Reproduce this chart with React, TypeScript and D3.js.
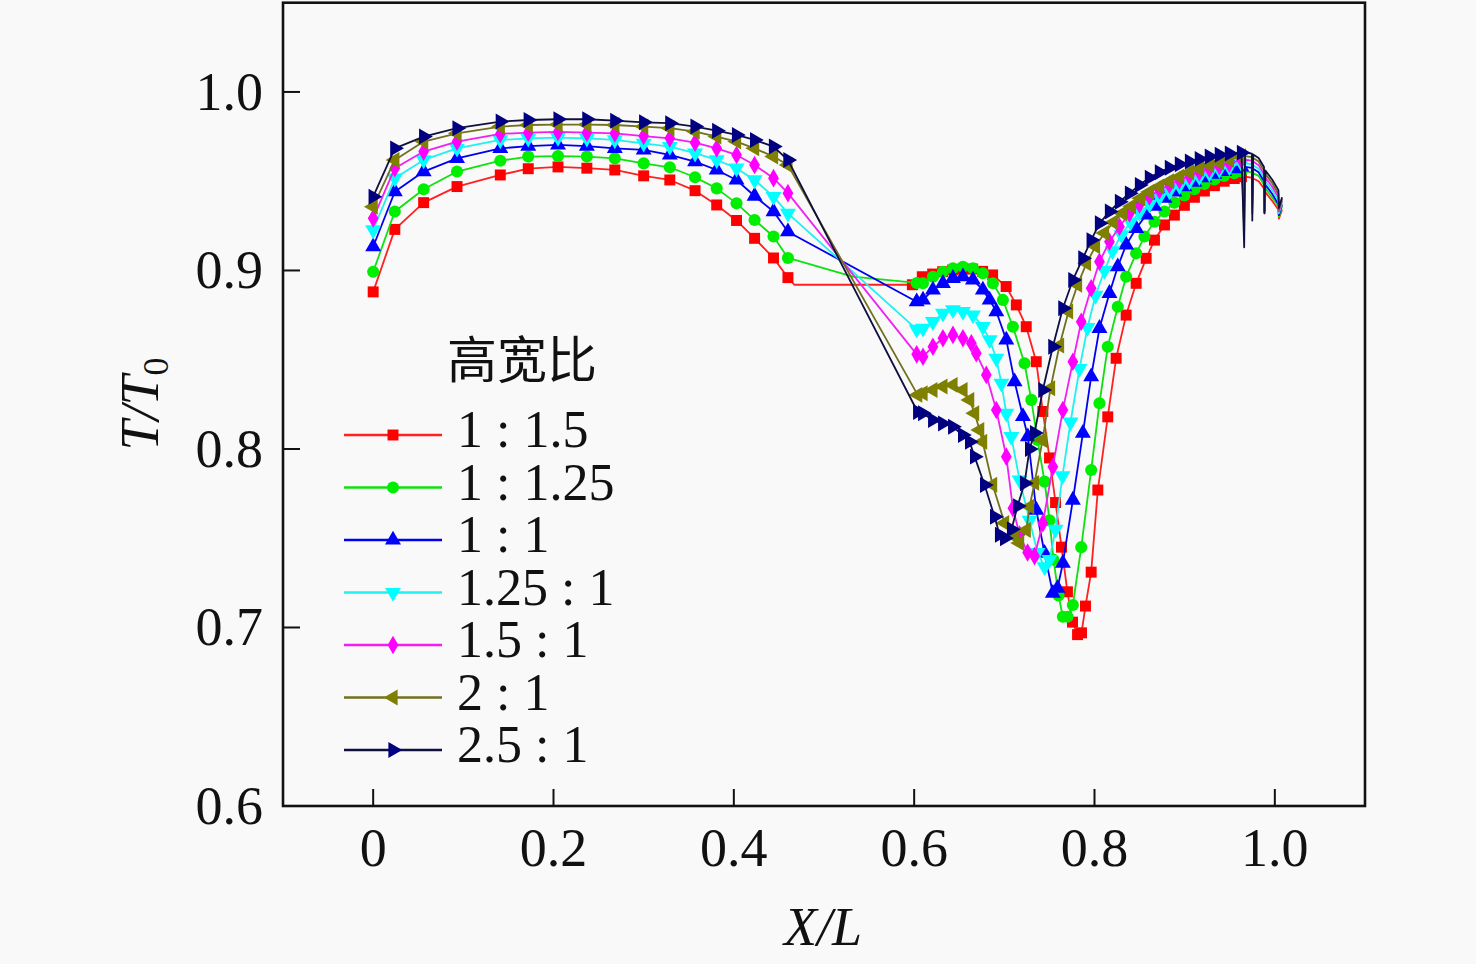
import React from 'react';
import * as d3 from 'd3';

// ---------- data ----------
const X_TICKS = [0, 0.2, 0.4, 0.6, 0.8, 1.0];
const X_TICK_LABELS = ['0', '0.2', '0.4', '0.6', '0.8', '1.0'];
const Y_TICKS = [0.6, 0.7, 0.8, 0.9, 1.0];
const Y_TICK_LABELS = ['0.6', '0.7', '0.8', '0.9', '1.0'];

const LEGEND_TITLE = '高宽比';
const SERIES_NAMES = ['1 : 1.5', '1 : 1.25', '1 : 1', '1.25 : 1', '1.5 : 1', '2 : 1', '2.5 : 1'];

// shared stations in the first section
const X_LEFT = [0, 0.024, 0.056, 0.093, 0.141, 0.172, 0.205, 0.237, 0.268, 0.3, 0.329, 0.357, 0.381, 0.403, 0.423, 0.444, 0.46];
// shared stations near the outlet
const X_END = [0.966, 0.967, 0.9745, 0.975, 0.976, 0.982, 0.988, 0.9885, 0.9895, 0.997, 1.004, 1.0045, 1.008];

// 1:1.5
const T_LEFT_A = [0.888, 0.923, 0.938, 0.947, 0.9535, 0.957, 0.958, 0.9573, 0.9563, 0.953, 0.9507, 0.9447, 0.9367, 0.928, 0.918, 0.907, 0.896];
const X_GAP_A = [0.467];
const T_GAP_A = [0.892];
const X_RIGHT_A = [0.598, 0.609, 0.6205, 0.6316, 0.6427, 0.6537, 0.6648, 0.6759, 0.687, 0.702, 0.7133, 0.7243, 0.7354, 0.7427, 0.7501, 0.7568, 0.7634, 0.77, 0.7756, 0.7812, 0.7856, 0.79, 0.7963, 0.8037, 0.8147, 0.824, 0.8351, 0.8462, 0.8573, 0.8665, 0.8776, 0.8886, 0.8997, 0.9108, 0.9219, 0.933, 0.9438, 0.955, 0.963];
const T_RIGHT_A = [0.892, 0.8965, 0.898, 0.8993, 0.9003, 0.9008, 0.9008, 0.8995, 0.8975, 0.891, 0.8807, 0.8685, 0.8489, 0.821, 0.795, 0.77, 0.745, 0.72, 0.703, 0.696, 0.697, 0.712, 0.731, 0.777, 0.818, 0.8508, 0.875, 0.8928, 0.9068, 0.917, 0.9255, 0.931, 0.9365, 0.941, 0.9445, 0.9475, 0.95, 0.9515, 0.9525];
const T_END_A = [0.943, 0.9525, 0.952, 0.941, 0.9515, 0.95, 0.946, 0.932, 0.944, 0.939, 0.934, 0.929, 0.934];

// 1:1.25
const T_LEFT_B = [0.8993, 0.933, 0.9455, 0.9554, 0.9615, 0.9638, 0.9641, 0.9638, 0.9628, 0.96, 0.9578, 0.9522, 0.946, 0.9376, 0.9283, 0.919, 0.907];
const X_GAP_B = [0.532];
const T_GAP_B = [0.8965];
const X_RIGHT_B = [0.6028, 0.6098, 0.6208, 0.6319, 0.643, 0.6541, 0.6652, 0.6762, 0.6873, 0.6984, 0.7095, 0.7224, 0.7299, 0.7368, 0.7446, 0.7501, 0.7546, 0.7601, 0.7649, 0.7701, 0.776, 0.7853, 0.7963, 0.8055, 0.8147, 0.8258, 0.8351, 0.8462, 0.8554, 0.8665, 0.8776, 0.8886, 0.8997, 0.9108, 0.9219, 0.933, 0.9438, 0.955, 0.963];
const T_RIGHT_B = [0.893, 0.8928, 0.8965, 0.8993, 0.9012, 0.9021, 0.9012, 0.8984, 0.8928, 0.8835, 0.8685, 0.848, 0.8275, 0.805, 0.7817, 0.76, 0.738, 0.718, 0.706, 0.706, 0.7126, 0.745, 0.7882, 0.8256, 0.8573, 0.8797, 0.8965, 0.9096, 0.919, 0.9273, 0.933, 0.938, 0.942, 0.9455, 0.9485, 0.951, 0.953, 0.9545, 0.9555];
const T_END_B = [0.941, 0.9555, 0.955, 0.94, 0.9545, 0.953, 0.948, 0.933, 0.946, 0.941, 0.936, 0.93, 0.936];

// 1:1
const T_LEFT_C = [0.9133, 0.9441, 0.9554, 0.9628, 0.9684, 0.9697, 0.9703, 0.9697, 0.9684, 0.9675, 0.9647, 0.961, 0.9563, 0.9507, 0.9417, 0.933, 0.9217];
const X_GAP_C: number[] = [];
const T_GAP_C: number[] = [];
const X_RIGHT_C = [0.6028, 0.6098, 0.6208, 0.6319, 0.643, 0.6541, 0.6652, 0.6762, 0.6837, 0.6911, 0.7022, 0.7114, 0.7206, 0.7261, 0.7354, 0.7446, 0.7538, 0.759, 0.7649, 0.776, 0.7871, 0.7963, 0.8055, 0.8166, 0.8258, 0.8351, 0.8462, 0.8573, 0.8665, 0.8776, 0.8886, 0.8997, 0.9108, 0.9219, 0.933, 0.9438, 0.955, 0.963];
const T_RIGHT_C = [0.8825, 0.8835, 0.8891, 0.8928, 0.8956, 0.8965, 0.8947, 0.8891, 0.8835, 0.877, 0.8611, 0.8377, 0.8182, 0.8069, 0.7658, 0.7416, 0.7192, 0.722, 0.736, 0.7714, 0.8088, 0.8405, 0.8676, 0.8872, 0.9021, 0.9143, 0.9236, 0.9311, 0.936, 0.9405, 0.944, 0.947, 0.9495, 0.952, 0.954, 0.9555, 0.957, 0.958];
const T_END_C = [0.938, 0.958, 0.9575, 0.939, 0.957, 0.955, 0.95, 0.933, 0.948, 0.943, 0.937, 0.931, 0.937];

// 1.25:1
const T_LEFT_D = [0.9227, 0.9517, 0.9619, 0.9684, 0.9731, 0.974, 0.9744, 0.974, 0.9731, 0.9712, 0.9694, 0.9657, 0.9619, 0.9573, 0.9507, 0.9414, 0.932];
const X_GAP_D: number[] = [];
const T_GAP_D: number[] = [];
const X_RIGHT_D = [0.6028, 0.6098, 0.6208, 0.6319, 0.643, 0.6541, 0.6652, 0.6762, 0.6837, 0.6911, 0.6967, 0.7022, 0.7077, 0.7169, 0.728, 0.7368, 0.7446, 0.7501, 0.7568, 0.7645, 0.7734, 0.7834, 0.7922, 0.8011, 0.8111, 0.82, 0.8299, 0.8399, 0.8499, 0.8609, 0.872, 0.8831, 0.8942, 0.9053, 0.9163, 0.9274, 0.9385, 0.9496, 0.963];
const T_RIGHT_D = [0.867, 0.8676, 0.8713, 0.876, 0.8779, 0.877, 0.875, 0.8685, 0.8611, 0.8508, 0.8368, 0.82, 0.8069, 0.7826, 0.76, 0.742, 0.734, 0.738, 0.755, 0.785, 0.815, 0.845, 0.868, 0.886, 0.9, 0.911, 0.92, 0.927, 0.9325, 0.937, 0.941, 0.9445, 0.9475, 0.95, 0.9525, 0.9545, 0.9565, 0.958, 0.96];
const T_END_D = [0.935, 0.96, 0.9595, 0.937, 0.959, 0.957, 0.952, 0.934, 0.95, 0.945, 0.939, 0.932, 0.938];

// 1.5:1
const T_LEFT_E = [0.9292, 0.9573, 0.9666, 0.9722, 0.9765, 0.9772, 0.9776, 0.9772, 0.9768, 0.9753, 0.974, 0.9716, 0.9684, 0.9647, 0.9591, 0.9517, 0.9433];
const X_GAP_E: number[] = [];
const T_GAP_E: number[] = [];
const X_RIGHT_E = [0.6028, 0.6098, 0.6208, 0.6319, 0.643, 0.6541, 0.6634, 0.6689, 0.68, 0.6911, 0.7022, 0.7095, 0.7169, 0.7258, 0.7335, 0.7427, 0.7538, 0.7649, 0.776, 0.7853, 0.7963, 0.8055, 0.8166, 0.8277, 0.8388, 0.8499, 0.8609, 0.872, 0.8831, 0.8942, 0.9053, 0.9163, 0.9274, 0.9385, 0.9496, 0.963];
const T_RIGHT_E = [0.853, 0.8517, 0.8573, 0.862, 0.8639, 0.862, 0.8592, 0.8536, 0.8415, 0.8218, 0.7957, 0.7668, 0.752, 0.742, 0.74, 0.7584, 0.79, 0.8218, 0.8489, 0.8713, 0.89, 0.9049, 0.9161, 0.9245, 0.932, 0.937, 0.9415, 0.945, 0.948, 0.9505, 0.953, 0.955, 0.957, 0.9585, 0.96, 0.962];
const T_END_E = [0.93, 0.962, 0.9615, 0.935, 0.961, 0.959, 0.954, 0.934, 0.952, 0.947, 0.941, 0.933, 0.939];

// 2:1
const T_LEFT_F = [0.9357, 0.9619, 0.9722, 0.9768, 0.9806, 0.9815, 0.9817, 0.9817, 0.9815, 0.9806, 0.9797, 0.9778, 0.975, 0.9722, 0.9684, 0.9638, 0.9591];
const X_GAP_F: number[] = [];
const T_GAP_F: number[] = [];
const X_RIGHT_F = [0.6039, 0.6098, 0.6208, 0.6319, 0.643, 0.6541, 0.6615, 0.667, 0.6726, 0.6759, 0.687, 0.7003, 0.7114, 0.7169, 0.7243, 0.728, 0.7335, 0.7424, 0.7512, 0.7612, 0.7712, 0.7812, 0.7911, 0.8011, 0.8111, 0.8211, 0.831, 0.841, 0.851, 0.8609, 0.872, 0.8831, 0.8942, 0.9053, 0.9163, 0.9274, 0.9385, 0.9496, 0.963];
const T_RIGHT_F = [0.8303, 0.8312, 0.833, 0.835, 0.8359, 0.833, 0.8275, 0.82, 0.8106, 0.804, 0.78, 0.7585, 0.751, 0.7473, 0.7546, 0.7677, 0.781, 0.805, 0.834, 0.858, 0.877, 0.892, 0.904, 0.9135, 0.921, 0.927, 0.932, 0.936, 0.9405, 0.944, 0.947, 0.95, 0.9525, 0.955, 0.957, 0.959, 0.9605, 0.962, 0.964];
const T_END_F = [0.922, 0.964, 0.9635, 0.932, 0.963, 0.961, 0.956, 0.933, 0.954, 0.949, 0.943, 0.934, 0.94];

// 2.5:1
const T_LEFT_G = [0.9413, 0.9684, 0.975, 0.9797, 0.9834, 0.9843, 0.9847, 0.9847, 0.9839, 0.983, 0.9825, 0.9806, 0.9783, 0.9759, 0.9731, 0.9694, 0.9619];
const X_GAP_G: number[] = [];
const T_GAP_G: number[] = [];
const X_RIGHT_G = [0.6039, 0.6094, 0.6205, 0.6316, 0.6427, 0.6537, 0.6615, 0.667, 0.6781, 0.6892, 0.6947, 0.7003, 0.708, 0.7147, 0.7224, 0.728, 0.7335, 0.7427, 0.7538, 0.7649, 0.776, 0.7871, 0.7963, 0.8055, 0.8166, 0.8277, 0.8388, 0.8499, 0.8609, 0.872, 0.8831, 0.8942, 0.9053, 0.9163, 0.9274, 0.9385, 0.9496, 0.963];
const T_RIGHT_G = [0.8207, 0.82, 0.8162, 0.8143, 0.8125, 0.8078, 0.804, 0.7957, 0.7798, 0.762, 0.752, 0.75, 0.755, 0.768, 0.7808, 0.8, 0.809, 0.833, 0.8573, 0.8788, 0.8947, 0.9068, 0.917, 0.9264, 0.933, 0.9385, 0.9432, 0.9479, 0.952, 0.955, 0.9575, 0.9595, 0.961, 0.9625, 0.9638, 0.9648, 0.9655, 0.966];
const T_END_G = [0.913, 0.966, 0.9655, 0.928, 0.965, 0.963, 0.958, 0.932, 0.956, 0.951, 0.945, 0.935, 0.941];

// ---------- styles ----------
const MARKER_COLORS = ['#ff0000', '#00ee00', '#0000ff', '#00ffff', '#ff00ff', '#808000', '#000080'];
const LINE_COLORS = ['#ff2020', '#10e010', '#0000f0', '#20f0f0', '#f020f0', '#707020', '#101040'];
const SYMBOLS = [
  { type: d3.symbolSquare, size: 120, rot: 0 },
  { type: d3.symbolCircle, size: 115, rot: 0 },
  { type: d3.symbolTriangle, size: 110, rot: 0 },
  { type: d3.symbolTriangle, size: 110, rot: 180 },
  { type: d3.symbolDiamond, size: 100, rot: 0 },
  { type: d3.symbolTriangle, size: 110, rot: -90 },
  { type: d3.symbolTriangle, size: 110, rot: 90 },
];

const SERIES_DATA = [
  [T_LEFT_A, X_GAP_A, T_GAP_A, X_RIGHT_A, T_RIGHT_A, T_END_A],
  [T_LEFT_B, X_GAP_B, T_GAP_B, X_RIGHT_B, T_RIGHT_B, T_END_B],
  [T_LEFT_C, X_GAP_C, T_GAP_C, X_RIGHT_C, T_RIGHT_C, T_END_C],
  [T_LEFT_D, X_GAP_D, T_GAP_D, X_RIGHT_D, T_RIGHT_D, T_END_D],
  [T_LEFT_E, X_GAP_E, T_GAP_E, X_RIGHT_E, T_RIGHT_E, T_END_E],
  [T_LEFT_F, X_GAP_F, T_GAP_F, X_RIGHT_F, T_RIGHT_F, T_END_F],
  [T_LEFT_G, X_GAP_G, T_GAP_G, X_RIGHT_G, T_RIGHT_G, T_END_G],
];

const W = 1476;
const H = 964;
const PLOT = { left: 283, right: 1365, top: 2.7, bottom: 806 };
const SERIF = '"Liberation Serif", "Times New Roman", serif';

export default function App() {
  const x = d3.scaleLinear().domain([-0.1, 1.1]).range([PLOT.left, PLOT.right]);
  const y = d3.scaleLinear().domain([0.6, 1.05]).range([PLOT.bottom, PLOT.top]);
  const line = d3.line<[number, number]>().x((d) => x(d[0])).y((d) => y(d[1]));

  const series = SERIES_DATA.map(([tl, xg, tg, xr, tr, te], i) => {
    const left: [number, number][] = X_LEFT.map((xv, j) => [xv, tl[j]]);
    const gap: [number, number][] = xg.map((xv, j) => [xv, tg[j]]);
    const right: [number, number][] = xr.map((xv, j) => [xv, tr[j]]);
    const end: [number, number][] = X_END.map((xv, j) => [xv, te[j]]);
    return {
      path: line([...left, ...gap, ...right, ...end]) || '',
      marks: [...left, ...right],
      i,
    };
  });

  const symPath = (i: number) => d3.symbol().type(SYMBOLS[i].type).size(SYMBOLS[i].size)() || '';

  const legendX0 = 344;
  const legendX1 = 442;
  const legendY0 = 435;
  const legendStep = 52.5;

  return (
    <svg width={W} height={H} style={{ position: 'absolute', left: 0, top: 0 }}>
      <rect x={0} y={0} width={W} height={H} fill="#f9f9f9" />
      {/* series */}
      {series.map((s) => (
        <g key={s.i}>
          <path d={s.path} fill="none" stroke={LINE_COLORS[s.i]} strokeWidth={1.8} strokeLinejoin="round" />
          {s.marks.map((p, k) => (
            <path
              key={k}
              d={symPath(s.i)}
              fill={MARKER_COLORS[s.i]}
              transform={`translate(${x(p[0])},${y(p[1])}) rotate(${SYMBOLS[s.i].rot})`}
            />
          ))}
        </g>
      ))}
      {/* frame */}
      <rect
        x={PLOT.left}
        y={PLOT.top}
        width={PLOT.right - PLOT.left}
        height={PLOT.bottom - PLOT.top}
        fill="none"
        stroke="#111"
        strokeWidth={2.6}
      />
      {/* x ticks */}
      {X_TICKS.map((v, i) => (
        <g key={'xt' + i}>
          <line x1={x(v)} x2={x(v)} y1={PLOT.bottom} y2={PLOT.bottom - 17} stroke="#111" strokeWidth={2} />
          <text x={x(v)} y={866} textAnchor="middle" fontFamily={SERIF} fontSize={54} fill="#111">
            {X_TICK_LABELS[i]}
          </text>
        </g>
      ))}
      {/* y ticks */}
      {Y_TICKS.map((v, i) => (
        <g key={'yt' + i}>
          <line x1={PLOT.left} x2={PLOT.left + 17} y1={y(v)} y2={y(v)} stroke="#111" strokeWidth={2} />
          <text x={263} y={y(v) + 18} textAnchor="end" fontFamily={SERIF} fontSize={54} fill="#111">
            {Y_TICK_LABELS[i]}
          </text>
        </g>
      ))}
      {/* axis titles */}
      <text x={823} y={945} textAnchor="middle" fontFamily={SERIF} fontSize={54} fontStyle="italic" fill="#111">
        X/L
      </text>
      <text transform="translate(158,404) rotate(-90)" textAnchor="middle" fontFamily={SERIF} fontSize={54} fill="#111">
        <tspan fontStyle="italic">T/T</tspan>
        <tspan fontSize={36} dy={10}>0</tspan>
      </text>
      {/* legend */}
      <text x={447} y={378} fontFamily='"Noto Sans CJK SC", sans-serif' fontSize={50} fill="#111">
        {LEGEND_TITLE}
      </text>
      {SERIES_NAMES.map((name, i) => {
        const ly = legendY0 + i * legendStep;
        return (
          <g key={'lg' + i}>
            <line x1={legendX0} x2={legendX1} y1={ly} y2={ly} stroke={LINE_COLORS[i]} strokeWidth={2.4} />
            <path
              d={symPath(i)}
              fill={MARKER_COLORS[i]}
              transform={`translate(${(legendX0 + legendX1) / 2},${ly}) rotate(${SYMBOLS[i].rot})`}
            />
            <text x={457} y={ly + 12} fontFamily={SERIF} fontSize={52} fill="#111">
              {name}
            </text>
          </g>
        );
      })}
    </svg>
  );
}
